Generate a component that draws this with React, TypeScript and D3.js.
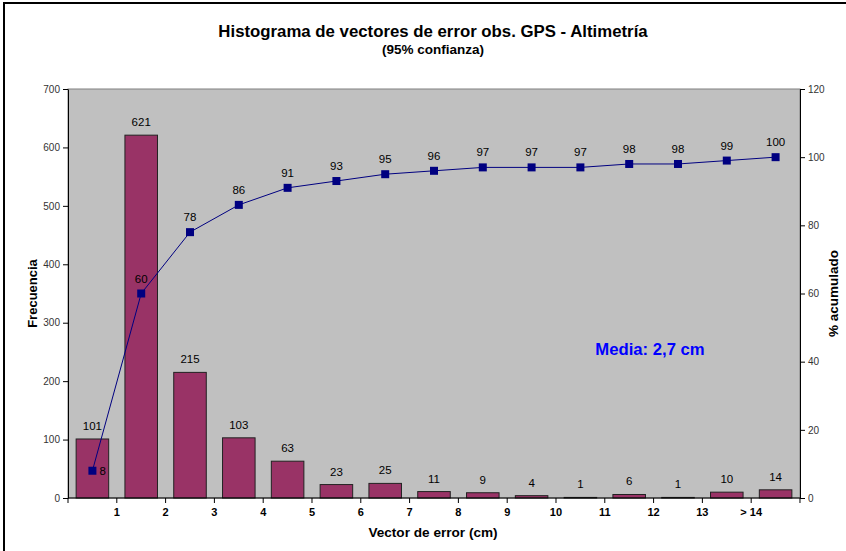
import { useEffect, useRef } from 'react';
import * as d3 from 'd3';

const bins = ['1', '2', '3', '4', '5', '6', '7', '8', '9', '10', '11', '12', '13', '14', '15'];
const tickLabels = ['1', '2', '3', '4', '5', '6', '7', '8', '9', '10', '11', '12', '13', '> 14'];
const counts = [101, 621, 215, 103, 63, 23, 25, 11, 9, 4, 1, 6, 1, 10, 14];
const cumulative = [8, 60, 78, 86, 91, 93, 95, 96, 97, 97, 97, 98, 98, 99, 100];
const freqTicks = [0, 100, 200, 300, 400, 500, 600, 700];
const pctTicks = [0, 20, 40, 60, 80, 100, 120];

export default function App() {
  const svgRef = useRef<SVGSVGElement | null>(null);

  useEffect(() => {
    if (!svgRef.current) return;
    const svg = d3.select(svgRef.current);
    svg.selectAll('*').remove();

    const font = 'Liberation Sans, Arial, sans-serif';
    const left = 68, right = 800, top = 89, bottom = 498;

    // outer frame
    svg.append('rect')
      .attr('x', 4).attr('y', 3).attr('width', 860).attr('height', 560)
      .attr('fill', '#fff').attr('stroke', '#000').attr('stroke-width', 2);

    svg.append('text').attr('x', 433).attr('y', 37).attr('text-anchor', 'middle')
      .attr('font-family', font).attr('font-weight', 'bold').attr('font-size', 16.8)
      .text('Histograma de vectores de error obs. GPS - Altimetría');
    svg.append('text').attr('x', 433).attr('y', 54).attr('text-anchor', 'middle')
      .attr('font-family', font).attr('font-weight', 'bold').attr('font-size', 13.5)
      .text('(95% confianza)');

    const x = d3.scaleBand().domain(bins).range([left, right]).paddingInner(0.333).paddingOuter(0.1667);
    const step = x.step();
    const y = d3.scaleLinear().domain([0, 700]).range([bottom, top]);
    const y2 = d3.scaleLinear().domain([0, 120]).range([bottom, top]);

    svg.append('rect')
      .attr('x', left).attr('y', top).attr('width', right - left).attr('height', bottom - top)
      .attr('fill', '#c0c0c0').attr('stroke', '#808080').attr('stroke-width', 1);

    // bars
    svg.selectAll('.bar').data(counts).enter().append('rect')
      .attr('x', (_, i) => x(bins[i])!)
      .attr('y', d => y(d))
      .attr('width', x.bandwidth())
      .attr('height', d => bottom - y(d))
      .attr('fill', '#993366').attr('stroke', '#222').attr('stroke-width', 1);

    svg.selectAll('.blabel').data(counts).enter().append('text')
      .attr('x', (_, i) => x(bins[i])! + x.bandwidth() / 2)
      .attr('y', d => y(d) - 9)
      .attr('text-anchor', 'middle')
      .attr('font-family', font).attr('font-size', 11.5).attr('fill', '#000')
      .text(d => d);

    // left axis
    const leftAxis = svg.append('g').attr('transform', `translate(${left},0)`)
      .call(d3.axisLeft(y).tickValues(freqTicks).tickSize(5).tickSizeOuter(0));
    leftAxis.select('.domain').attr('stroke', '#000');
    leftAxis.selectAll('text').attr('font-family', font).attr('font-size', 10).attr('fill', '#333');

    const rightAxis = svg.append('g').attr('transform', `translate(${right},0)`)
      .call(d3.axisRight(y2).tickValues(pctTicks).tickSize(5).tickSizeOuter(0));
    rightAxis.select('.domain').attr('stroke', '#000');
    rightAxis.selectAll('text').attr('font-family', font).attr('font-size', 10).attr('fill', '#333');

    // bottom axis with ticks at bin boundaries
    svg.append('line').attr('x1', left).attr('x2', right).attr('y1', bottom).attr('y2', bottom)
      .attr('stroke', '#000');
    const boundaries = d3.range(bins.length + 1).map(i => left + i * step);
    svg.selectAll('.xtick').data(boundaries).enter().append('line')
      .attr('x1', d => d).attr('x2', d => d).attr('y1', bottom).attr('y2', bottom + 5)
      .attr('stroke', '#000');
    svg.selectAll('.xlabel').data(tickLabels).enter().append('text')
      .attr('x', (_, i) => left + (i + 1) * step)
      .attr('y', bottom + 18)
      .attr('text-anchor', 'middle')
      .attr('font-family', font).attr('font-weight', 'bold').attr('font-size', 11).attr('fill', '#000')
      .text(d => d);

    // cumulative line
    const cx = (i: number) => x(bins[i])! + x.bandwidth() / 2;
    const line = d3.line<number>().x((_, i) => cx(i)).y(d => y2(d));
    svg.append('path').datum(cumulative).attr('d', line)
      .attr('fill', 'none').attr('stroke', '#000080').attr('stroke-width', 1);
    svg.selectAll('.pt').data(cumulative).enter().append('rect')
      .attr('x', (_, i) => cx(i) - 4).attr('y', d => y2(d) - 4)
      .attr('width', 8).attr('height', 8).attr('fill', '#000080');
    svg.selectAll('.plabel').data(cumulative).enter().append('text')
      .attr('x', (_, i) => (i === 0 ? cx(i) + 7 : cx(i)))
      .attr('y', (d, i) => (i === 0 ? y2(d) + 4 : y2(d) - 11))
      .attr('text-anchor', (_, i) => (i === 0 ? 'start' : 'middle'))
      .attr('font-family', font).attr('font-size', 11.5).attr('fill', '#000')
      .text(d => d);

    svg.append('text').attr('x', 650).attr('y', 355).attr('text-anchor', 'middle')
      .attr('font-family', font).attr('font-weight', 'bold').attr('font-size', 16.7)
      .attr('fill', '#0000ff').text('Media: 2,7 cm');

    svg.append('text').attr('transform', `translate(37,${(top + bottom) / 2}) rotate(-90)`)
      .attr('text-anchor', 'middle')
      .attr('font-family', font).attr('font-weight', 'bold').attr('font-size', 13)
      .text('Frecuencia');
    svg.append('text').attr('transform', `translate(838,${(top + bottom) / 2}) rotate(-90)`)
      .attr('text-anchor', 'middle')
      .attr('font-family', font).attr('font-weight', 'bold').attr('font-size', 13.5)
      .text('% acumulado');
    svg.append('text').attr('x', 433).attr('y', 537).attr('text-anchor', 'middle')
      .attr('font-family', font).attr('font-weight', 'bold').attr('font-size', 13.6)
      .text('Vector de error (cm)');
  }, []);

  return (
    <svg ref={svgRef} width={846} height={551}
      style={{ position: 'absolute', left: 0, top: 0, display: 'block' }} />
  );
}
